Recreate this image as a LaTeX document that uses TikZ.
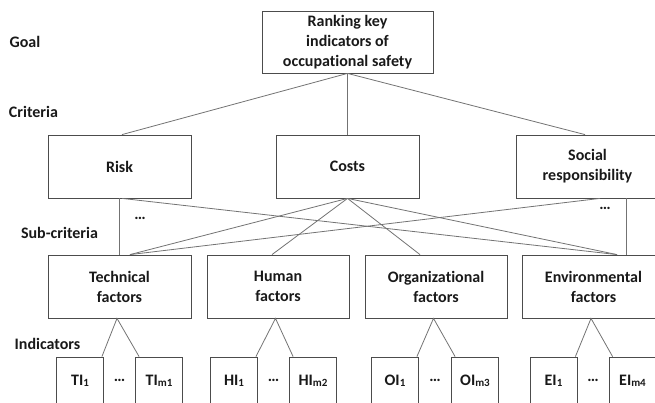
\documentclass[tikz,border=0pt]{standalone}
\usepackage{fontspec}
\setmainfont{Carlito}[Ligatures={NoCommon,NoContextual}]
\usetikzlibrary{calc}
\tikzset{
  box/.style={draw=black!70, line width=0.8pt, align=center, inner sep=0pt,
    font=\bfseries\fontsize{16}{20}\selectfont, text=black!90, minimum height=63pt},
  ind/.style={draw=black!70, line width=0.8pt, inner sep=0pt, minimum width=47pt,
    minimum height=48pt, font=\bfseries\fontsize{16}{20}\selectfont, text=black!90},
  lvl/.style={inner sep=0pt, font=\bfseries\fontsize{16}{20}\selectfont, text=black!90},
  link/.style={draw=black!55, line width=0.8pt},
}
\newcommand{\idx}[1]{\raisebox{-1pt}{\fontsize{11}{11}\selectfont #1}}
\newcommand{\dotsx}{\char"2026}
\begin{document}
\begin{tikzpicture}[x=1pt,y=-1pt]
\useasboundingbox (0,0) rectangle (655,403);
\clip (0,0) rectangle (655,403);

% level labels
\node[lvl] (lgoal) at (25,42) {Goal};
\node[lvl] (lcrit) at (33.5,112) {Criteria};
\node[lvl] (lsub) at (59.5,233) {Sub-criteria};
\node[lvl] (lind) at (47.5,344) {Indicators};

% goal
\node[box, minimum width=171pt, minimum height=62pt] (goal) at (347.5,42) {Ranking key\\indicators of\\occupational safety};

% criteria
\node[box, minimum width=143pt] (risk) at (119.5,166.5) {Risk};
\node[box, minimum width=143pt] (costs) at (347.5,166.5) {Costs};
\node[box, minimum width=143pt] (social) at (587.5,166.5) {Social\\responsibility};

% sub-criteria
\node[box, minimum width=143pt] (tech) at (119.5,286.5) {Technical\\factors};
\node[box, minimum width=142pt] (human) at (278,286.5) {Human\\factors};
\node[box, minimum width=142pt] (org) at (436,286.5) {Organizational\\factors};
\node[box, minimum width=143pt] (env) at (593.5,286.5) {Environmental\\factors};

% dots between sub-criteria links
\node[lvl] (d1) at (140,218) {\dotsx};
\node[lvl] (d2) at (605,208) {\dotsx};

% indicators
\node[ind] (t1) at (80,381) {TI\idx{1}};
\node[ind] (tm) at (159,381) {TI\idx{m1}};
\node[lvl] (td) at (119.5,380) {\dotsx};
\node[ind] (h1) at (234,381) {HI\idx{1}};
\node[ind] (hm) at (313,381) {HI\idx{m2}};
\node[lvl] (hd) at (273.5,380) {\dotsx};
\node[ind] (o1) at (395,381) {OI\idx{1}};
\node[ind] (om) at (475,381) {OI\idx{m3}};
\node[lvl] (od) at (435,380) {\dotsx};
\node[ind] (e1) at (553.5,381) {EI\idx{1}};
\node[ind] (em) at (632.5,381) {EI\idx{m4}};
\node[lvl] (ed) at (593,380) {\dotsx};

% goal -> criteria
\draw[link] (goal.south) -- ($(risk.north)+(2.5,0)$);
\draw[link] (goal.south) -- (costs.north);
\draw[link] (goal.south) -- ($(social.north)+(-2.5,0)$);

% criteria -> sub-criteria
\draw[link] (risk.south) -- (tech.north);
\draw[link] ($(risk.south)+(2.5,0)$) -- ($(env.north)+(23.5,0)$);
\draw[link] (costs.south) -- ($(tech.north)+(10.5,0)$);
\draw[link] (costs.south) -- ($(human.north)+(-6,0)$);
\draw[link] (costs.south) -- ($(org.north)+(-16,0)$);
\draw[link] (costs.south) -- ($(env.north)+(23.5,0)$);
\draw[link] ($(social.south)+(12.5,0)$) -- ($(tech.north)+(10.5,0)$);
\draw[link] ($(social.south)+(38.5,0)$) -- ($(env.north)+(32.5,0)$);

% sub-criteria -> indicators
\foreach \p/\a/\b in {tech/t1/tm, human/h1/hm, org/o1/om, env/e1/em}{
  \draw[link] ($(\a.north east)+(-2,0)$) -- ($(\p.south)+(-2.5,0)$) -- ($(\b.north west)+(4,0)$);
}
\end{tikzpicture}
\end{document}
